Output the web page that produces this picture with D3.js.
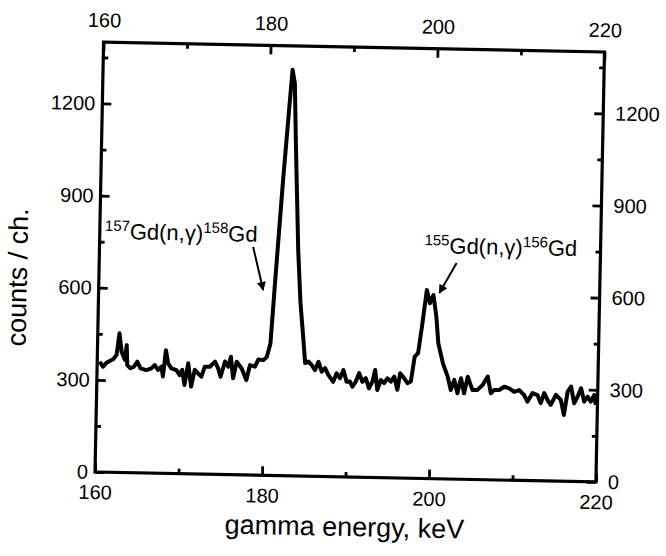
<!DOCTYPE html>
<html>
<head>
<meta charset="utf-8">
<script src="https://cdn.jsdelivr.net/npm/d3@7/dist/d3.min.js"></script>
<style>
  body { margin: 0; background: #fff; }
  svg text { font-family: "Liberation Sans", Arial, sans-serif; fill: #000; }
</style>
</head>
<body>
<svg></svg>
<script>
const width = 666;
const height = 556;

// spectrum (keV, counts per channel)
const energy = [
  160.3, 160.7, 161.1, 161.9, 162.3, 162.6, 162.9, 163.3, 163.5, 163.6,
  164.0, 164.4, 164.8, 165.2, 165.9, 166.5, 166.9, 167.3, 167.7, 167.9,
  168.2, 168.5, 168.9, 169.5, 169.9, 170.2, 170.5, 170.9, 171.3, 171.7,
  172.1, 172.5, 172.9, 173.5, 174.1, 174.5, 174.8, 175.3, 175.7, 176.0,
  176.3, 176.7, 177.3, 177.9, 178.3, 178.9, 179.3, 179.9, 180.3, 180.7,
  181.1, 181.8, 182.4, 182.7, 183.0, 183.3, 183.8, 184.2, 184.6, 184.9,
  185.3, 185.7, 186.1, 186.5, 186.9, 187.3, 187.7, 188.3, 188.7, 189.1,
  189.5, 189.9, 190.3, 190.6, 191.0, 191.4, 191.8, 192.2, 192.6, 193.0,
  193.3, 193.6, 194.0, 194.4, 194.8, 195.2, 195.6, 196.0, 196.3, 196.8,
  197.2, 197.6, 198.0, 198.4, 198.8, 199.3, 199.7, 200.1, 200.5, 200.8,
  201.4, 202.0, 202.4, 202.8, 203.2, 203.6, 204.0, 204.4, 205.0, 205.6,
  206.2, 206.8, 207.2, 207.6, 208.2, 208.8, 209.4, 210.0, 210.6, 211.2,
  211.6, 212.2, 212.8, 213.2, 213.6, 214.0, 214.4, 215.0, 215.6, 216.0,
  216.4, 216.8, 217.2, 217.6, 218.0, 218.4, 218.8, 219.2, 219.6, 219.8
];
const counts = [
  359, 343, 356, 368, 382, 453, 393, 367, 415, 350,
  340, 345, 362, 340, 335, 341, 352, 336, 347, 315,
  401, 358, 342, 337, 321, 338, 289, 360, 284, 339,
  328, 317, 350, 350, 367, 345, 318, 368, 351, 384,
  314, 368, 347, 309, 358, 353, 377, 375, 386, 430,
  626, 952, 1202, 1322, 1278, 1061, 736, 563, 454, 368,
  373, 362, 346, 373, 341, 353, 331, 309, 337, 321,
  348, 310, 311, 294, 311, 339, 311, 323, 290, 312,
  350, 285, 318, 308, 324, 313, 330, 287, 341, 325,
  309, 315, 396, 408, 494, 614, 571, 598, 528, 441,
  376, 333, 290, 323, 280, 329, 280, 334, 291, 292,
  308, 336, 282, 293, 293, 304, 299, 288, 294, 278,
  257, 285, 279, 253, 286, 264, 248, 281, 265, 216,
  292, 309, 255, 276, 304, 261, 277, 261, 283, 251
];

const xMajorTicks = [160, 180, 200, 220];
const xMinorTicks = [170, 190, 210];
const yMajorTicks = [0, 300, 600, 900, 1200];
const yMinorTicks = [150, 450, 750, 1050, 1350];

const xTitle = "gamma energy, keV";
const yTitle = "counts / ch.";

// labels: isotope mass numbers and where they sit (in data units)
const labelParts = [
  ["157", "Gd(n,\u03b3)", "158", "Gd"],
  ["155", "Gd(n,\u03b3)", "156", "Gd"]
];
const labelAt = [[160.6, 760], [198.9, 734]];
const arrowFrom = [[178.4, 743], [202.8, 704]];
const arrowTo = [[179.7, 603], [200.8, 605]];

const margin = { left: 99.25, top: 47 };
const iw = 501;
const ih = 430;
const tilt = 1.14; // the scan is slightly rotated

const svg = d3.select("svg")
  .attr("width", width)
  .attr("height", height);

svg.append("defs").append("marker")
  .attr("id", "head")
  .attr("viewBox", "0 0 10 10")
  .attr("refX", 9)
  .attr("refY", 5)
  .attr("markerWidth", 12)
  .attr("markerHeight", 9)
  .attr("markerUnits", "userSpaceOnUse")
  .attr("orient", "auto")
  .append("path")
  .attr("d", "M0,0 L10,5 L0,10 Z")
  .attr("fill", "#000");

const root = svg.append("g")
  .attr("transform", `rotate(${tilt}, ${margin.left + iw / 2}, ${margin.top + ih / 2})`);

const g = root.append("g")
  .attr("transform", `translate(${margin.left}, ${margin.top})`);

const x = d3.scaleLinear().domain([160, 220]).range([0, iw]);
const y = d3.scaleLinear().domain([0, 1400]).range([ih, 0]);

function styleAxis(sel) {
  sel.select(".domain").remove();
  sel.selectAll("line").attr("stroke", "#000").attr("stroke-width", 2.8);
  sel.selectAll("text").attr("font-size", 20).attr("fill", "#000");
}

// major ticks with labels, minor ticks without
g.append("g").attr("transform", `translate(0, ${ih})`)
  .call(d3.axisBottom(x).tickValues(xMajorTicks).tickFormat(d3.format("d")).tickSize(-9).tickPadding(13))
  .call(styleAxis);
g.append("g").attr("transform", `translate(0, ${ih})`)
  .call(d3.axisBottom(x).tickValues(xMinorTicks).tickFormat("").tickSize(-5))
  .call(styleAxis);
g.append("g")
  .call(d3.axisTop(x).tickValues(xMajorTicks).tickFormat(d3.format("d")).tickSize(-9).tickPadding(15))
  .call(styleAxis);
g.append("g")
  .call(d3.axisTop(x).tickValues(xMinorTicks).tickFormat("").tickSize(-5))
  .call(styleAxis);

g.append("g")
  .call(d3.axisLeft(y).tickValues(yMajorTicks).tickFormat(d3.format("d")).tickSize(-9).tickPadding(7))
  .call(styleAxis);
g.append("g")
  .call(d3.axisLeft(y).tickValues(yMinorTicks).tickFormat("").tickSize(-5))
  .call(styleAxis);
g.append("g").attr("transform", `translate(${iw}, 0)`)
  .call(d3.axisRight(y).tickValues(yMajorTicks).tickFormat(d3.format("d")).tickSize(-9).tickPadding(12))
  .call(styleAxis);
g.append("g").attr("transform", `translate(${iw}, 0)`)
  .call(d3.axisRight(y).tickValues(yMinorTicks).tickFormat("").tickSize(-5))
  .call(styleAxis);

g.append("rect")
  .attr("width", iw)
  .attr("height", ih)
  .attr("fill", "none")
  .attr("stroke", "#000")
  .attr("stroke-width", 3.2);

const points = energy.map(function(e, i) { return [e, counts[i]]; });

const line = d3.line()
  .x(function(d) { return x(d[0]); })
  .y(function(d) { return y(d[1]); });

g.append("path")
  .datum(points)
  .attr("d", line)
  .attr("fill", "none")
  .attr("stroke", "#000")
  .attr("stroke-width", 4)
  .attr("stroke-linejoin", "round");

// isotope labels
labelParts.forEach(function(parts, i) {
  const t = g.append("text")
    .attr("x", x(labelAt[i][0]))
    .attr("y", y(labelAt[i][1]))
    .attr("font-size", 22);
  t.append("tspan").attr("font-size", 15).attr("dy", -8).text(parts[0]);
  t.append("tspan").attr("dy", 8).text(parts[1]);
  t.append("tspan").attr("font-size", 15).attr("dy", -8).text(parts[2]);
  t.append("tspan").attr("dy", 8).text(parts[3]);

  g.append("line")
    .attr("x1", x(arrowFrom[i][0]))
    .attr("y1", y(arrowFrom[i][1]))
    .attr("x2", x(arrowTo[i][0]))
    .attr("y2", y(arrowTo[i][1]))
    .attr("stroke", "#000")
    .attr("stroke-width", 2)
    .attr("marker-end", "url(#head)");
});

// axis titles
g.append("text")
  .attr("x", iw / 2)
  .attr("y", ih + 59)
  .attr("text-anchor", "middle")
  .attr("font-size", 27)
  .text(xTitle);

g.append("text")
  .attr("transform", `translate(${-72}, ${ih / 2 + 22}) rotate(-90)`)
  .attr("text-anchor", "middle")
  .attr("font-size", 27)
  .text(yTitle);
</script>
</body>
</html>
